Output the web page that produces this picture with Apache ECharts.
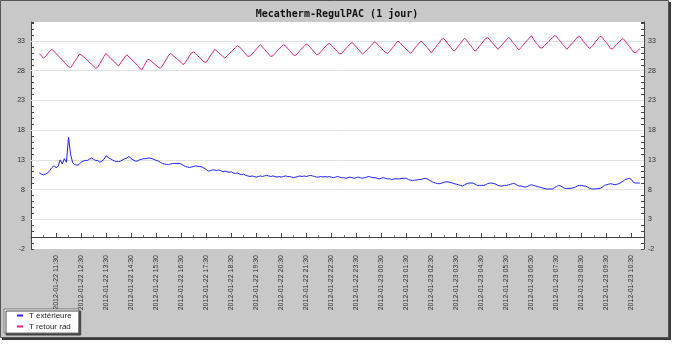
<!DOCTYPE html>
<html>
<head>
<meta charset="utf-8">
<script src="https://cdn.jsdelivr.net/npm/echarts@6/dist/echarts.min.js"></script>
<style>
  html, body { margin: 0; padding: 0; background: #ffffff; }
  #chart { width: 677px; height: 344px; }
</style>
</head>
<body>
<div id="chart"></div>
<script>
// Sampling: one reading every 5 minutes, first at 10:50 on 2012-01-22.
// X values are minutes counted from 2012-01-22 10:30.
const firstSampleMin = 20;
const sampleStepMin = 5;

// Hourly tick labels (at :30), one per 60 minutes starting at minute 60.
const hourLabels = [
  '2012-01-22 11:30', '2012-01-22 12:30', '2012-01-22 13:30', '2012-01-22 14:30',
  '2012-01-22 15:30', '2012-01-22 16:30', '2012-01-22 17:30', '2012-01-22 18:30',
  '2012-01-22 19:30', '2012-01-22 20:30', '2012-01-22 21:30', '2012-01-22 22:30',
  '2012-01-22 23:30', '2012-01-23 00:30', '2012-01-23 01:30', '2012-01-23 02:30',
  '2012-01-23 03:30', '2012-01-23 04:30', '2012-01-23 05:30', '2012-01-23 06:30',
  '2012-01-23 07:30', '2012-01-23 08:30', '2012-01-23 09:30', '2012-01-23 10:30'
];

// Labelled y values (same on both sides) and their gridlines.
const yTickValues = [-2, 3, 8, 13, 18, 23, 28, 33];

// T extérieure (°C)
const tExterieure = [
  10.8,10.6,10.5,10.6,10.8,11.2,11.7,12.0,11.7,11.9,
  13.0,12.3,13.2,12.6,16.8,13.9,12.5,12.2,12.1,12.2,
  12.6,12.8,12.9,12.9,13.1,13.3,13.1,12.9,12.9,12.6,
  12.8,13.1,13.7,13.4,13.2,13.0,12.8,12.7,12.7,12.8,
  13.0,13.2,13.3,13.6,13.2,13.0,12.8,12.8,13.0,13.1,
  13.2,13.2,13.3,13.3,13.2,13.1,12.9,12.8,12.6,12.4,
  12.3,12.2,12.2,12.3,12.4,12.4,12.4,12.4,12.3,12.1,
  11.9,11.8,11.7,11.8,11.9,12.0,11.9,11.9,11.8,11.6,
  11.4,11.1,11.2,11.3,11.3,11.2,11.3,11.2,11.0,11.1,
  11.0,10.9,11.0,10.8,10.7,10.8,10.6,10.5,10.6,10.4,
  10.3,10.2,10.3,10.2,10.1,10.2,10.3,10.2,10.3,10.4,
  10.3,10.2,10.3,10.2,10.1,10.2,10.1,10.2,10.3,10.2,
  10.2,10.1,10.0,10.1,10.2,10.3,10.2,10.3,10.2,10.3,
  10.4,10.3,10.2,10.1,10.1,10.2,10.1,10.2,10.1,10.2,
  10.1,10.0,10.1,10.2,10.1,10.0,10.0,9.9,10.0,10.1,
  10.0,9.9,10.0,10.1,10.0,9.9,10.0,10.1,10.2,10.1,
  10.0,10.0,9.9,9.8,9.9,10.0,9.9,9.8,9.8,9.7,
  9.8,9.8,9.8,9.8,9.9,9.9,9.9,9.7,9.6,9.5,
  9.6,9.6,9.7,9.7,9.8,9.9,9.8,9.6,9.4,9.2,
  9.1,9.0,9.0,9.1,9.2,9.3,9.3,9.2,9.1,9.0,
  8.9,8.8,8.7,8.6,8.8,9.0,9.1,9.1,9.1,8.9,
  8.7,8.7,8.7,8.7,8.8,9.0,9.1,9.1,9.0,8.9,
  8.7,8.6,8.6,8.7,8.7,8.8,8.9,9.0,9.0,8.8,
  8.6,8.6,8.5,8.4,8.5,8.7,8.8,8.7,8.6,8.5,
  8.4,8.3,8.2,8.1,8.1,8.1,8.1,8.3,8.5,8.7,
  8.6,8.4,8.2,8.2,8.2,8.2,8.3,8.4,8.6,8.7,
  8.7,8.6,8.6,8.4,8.2,8.1,8.1,8.1,8.2,8.2,
  8.4,8.7,8.8,8.9,9.0,8.9,8.8,8.9,9.0,9.2,
  9.4,9.7,9.8,9.9,9.7,9.2,9.1,9.1,9.1
];

// T retour rad (°C)
const tRetourRad = [
  30.9,30.5,30.1,30.4,30.9,31.3,31.6,31.3,30.9,30.5,
  30.2,29.8,29.4,29.0,28.7,28.5,29.0,29.6,30.1,30.7,
  30.7,30.4,30.1,29.8,29.4,29.1,28.8,28.4,28.6,29.2,
  29.8,30.4,30.9,30.5,30.2,29.8,29.5,29.1,28.8,29.3,
  29.8,30.3,30.7,30.3,30.0,29.6,29.3,28.9,28.5,28.1,
  28.7,29.3,29.9,29.8,29.5,29.2,28.9,28.6,28.4,28.8,
  29.4,30.0,30.6,30.9,30.6,30.3,30.0,29.7,29.4,29.0,
  29.4,29.9,30.5,31.0,31.2,30.9,30.5,30.2,29.8,29.5,
  29.4,29.9,30.5,31.0,31.6,31.4,31.0,30.7,30.4,30.1,
  30.5,30.8,31.2,31.5,31.9,32.2,32.0,31.6,31.2,30.8,
  30.4,30.5,30.8,31.2,31.6,32.0,32.4,32.0,31.6,31.2,
  30.8,30.4,30.5,30.9,31.3,31.7,32.0,32.4,32.2,31.8,
  31.4,31.0,30.6,30.6,31.0,31.4,31.8,32.1,32.5,32.3,
  31.9,31.5,31.1,30.7,30.8,31.2,31.6,32.0,32.4,32.6,
  32.3,31.9,31.6,31.2,30.8,30.9,31.3,31.7,32.1,32.5,
  32.8,32.4,32.0,31.6,31.2,30.8,31.1,31.5,31.8,32.2,
  32.6,32.9,32.5,32.2,31.8,31.4,31.1,30.9,31.3,31.7,
  32.1,32.6,33.0,32.7,32.3,32.0,31.6,31.3,30.9,31.3,
  31.8,32.2,32.6,33.0,32.7,32.3,31.9,31.5,31.0,31.5,
  31.9,32.4,32.8,33.3,33.4,33.0,32.5,32.1,31.6,31.3,
  31.7,32.2,32.6,33.1,33.5,33.1,32.6,32.2,31.7,31.3,
  31.6,32.1,32.5,33.0,33.4,33.6,33.2,32.8,32.4,32.0,
  31.6,32.0,32.4,32.8,33.2,33.6,33.3,32.8,32.4,31.9,
  31.5,31.9,32.3,32.7,33.1,33.5,33.9,33.3,32.8,32.4,
  31.9,31.8,32.1,32.5,32.8,33.2,33.5,33.9,33.8,33.3,
  32.9,32.4,32.0,31.6,32.0,32.4,32.8,33.2,33.6,33.8,
  33.4,32.9,32.5,32.1,31.7,32.1,32.5,33.0,33.4,33.8,
  33.6,33.1,32.7,32.2,31.7,31.7,32.1,32.5,32.8,33.2,
  33.4,33.0,32.5,32.1,31.6,31.1,31.0,31.4,31.7
];

function toPairs(values) {
  return values.map((v, i) => [firstSampleMin + i * sampleStepMin, v]);
}

const axisFont = { fontFamily: 'Liberation Sans', fontSize: 7, color: '#333' };
const axisLineColor = '#444';

function yAxisDef(position, margin) {
  return {
    type: 'value',
    position: position,
    min: -2,
    max: 36.2,
    interval: 1,
    axisLine: { show: true, lineStyle: { color: axisLineColor, width: 1 } },
    axisTick: { show: true, inside: true, length: 3, lineStyle: { color: axisLineColor } },
    axisLabel: Object.assign({
      margin: margin,
      formatter: v => (yTickValues.indexOf(v) >= 0 ? String(v) : '')
    }, axisFont),
    splitLine: { show: false }
  };
}

const chart = echarts.init(document.getElementById('chart'), null, { renderer: 'canvas' });

chart.setOption({
  animation: false,
  backgroundColor: '#ffffff',
  graphic: [
    // framed grey panel with a drop shadow on the right and bottom
    { type: 'rect', z: -10, shape: { x: 2, y: 2, width: 669, height: 338 }, style: { fill: '#3a3a3a' } },
    { type: 'rect', z: -9, shape: { x: 0.5, y: 0.5, width: 668, height: 337 },
      style: { fill: '#c8c8c8', stroke: '#555', lineWidth: 1 } },
    { type: 'text', z: 10, x: 337, y: 14,
      style: { text: 'Mecatherm-RegulPAC (1 jour)', fill: '#111', align: 'center', verticalAlign: 'middle',
               font: 'bold 10px "DejaVu Sans Mono"' } }
  ],
  grid: {
    left: 31, right: 33, top: 22, bottom: 95,
    show: true, backgroundColor: '#ffffff', borderWidth: 0
  },
  legend: {
    left: 4, top: 309,
    orient: 'vertical',
    backgroundColor: '#ffffff',
    borderColor: '#777', borderWidth: 1,
    shadowColor: '#444', shadowOffsetX: 2, shadowOffsetY: 2, shadowBlur: 0,
    padding: [2, 7, 2, 13],
    itemGap: 2,
    itemWidth: 6, itemHeight: 2,
    icon: 'rect',
    textStyle: { fontFamily: 'Liberation Sans', fontSize: 8, color: '#222', lineHeight: 9, padding: [0, 0, 0, 1] },
    data: ['T extérieure', 'T retour rad']
  },
  xAxis: {
    type: 'value',
    min: 0,
    max: 1470,
    interval: 60,
    axisLine: { show: true, onZero: true, lineStyle: { color: axisLineColor, width: 1 } },
    axisTick: { show: true, inside: true, length: 4, lineStyle: { color: axisLineColor } },
    minorTick: { show: true, splitNumber: 2, length: 2, lineStyle: { color: '#666' } },
    axisLabel: Object.assign({
      rotate: 90,
      margin: 6,
      formatter: v => hourLabels[v / 60 - 1] || ''
    }, axisFont),
    splitLine: { show: false }
  },
  yAxis: [yAxisDef('left', 6), yAxisDef('right', 4)],
  series: [
    {
      name: 'T extérieure',
      type: 'line',
      yAxisIndex: 0,
      data: toPairs(tExterieure),
      showSymbol: false,
      symbol: 'none',
      lineStyle: { color: '#1f1fff', width: 1 },
      itemStyle: { color: '#1f1fff' },
      markLine: {
        silent: true,
        z: 1,
        symbol: 'none',
        label: { show: false },
        lineStyle: { color: '#e2e2e2', type: 'solid', width: 1 },
        data: yTickValues.filter(v => v > -2).map(v => ({ yAxis: v }))
      }
    },
    {
      name: 'T retour rad',
      type: 'line',
      yAxisIndex: 0,
      data: toPairs(tRetourRad),
      showSymbol: false,
      symbol: 'none',
      lineStyle: { color: '#e8207e', width: 1 },
      itemStyle: { color: '#e8207e' }
    }
  ]
});
</script>
</body>
</html>
